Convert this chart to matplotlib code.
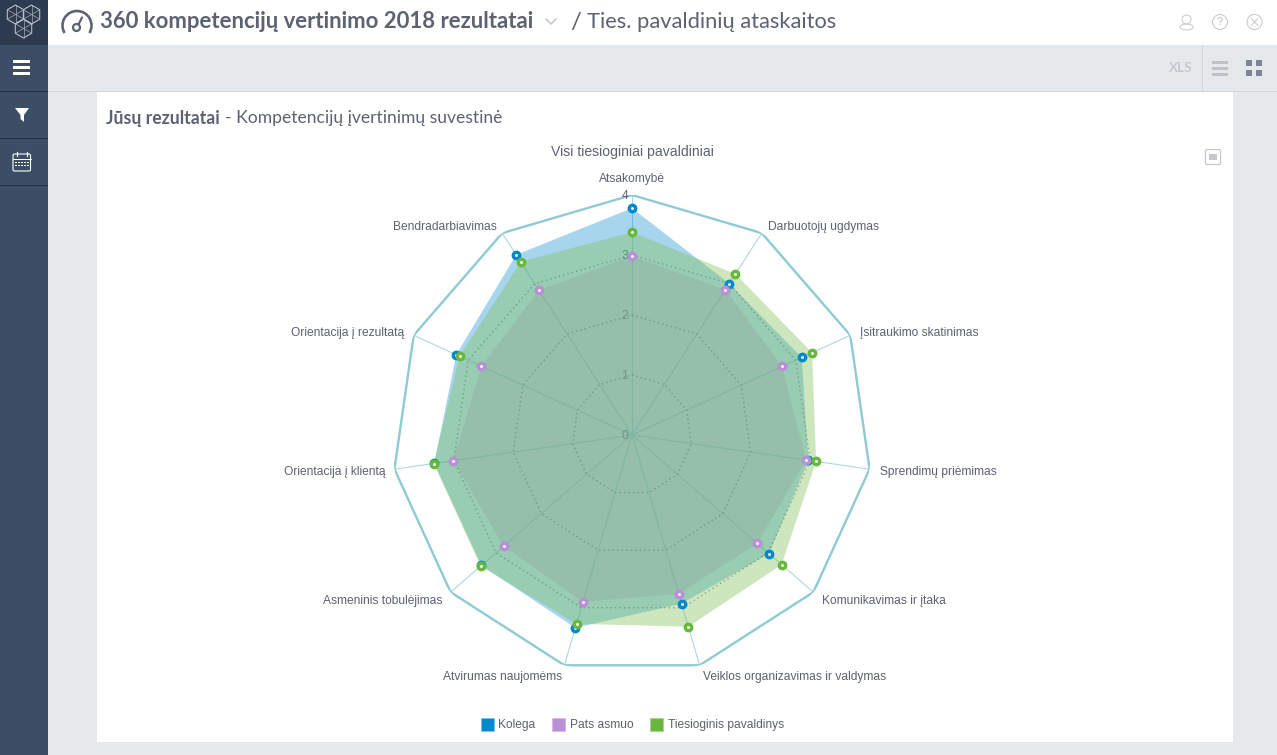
import numpy as np
import matplotlib
matplotlib.use("Agg")
import matplotlib.pyplot as plt
from matplotlib.patches import Rectangle, Circle, Arc, Polygon, FancyBboxPatch

categories = ["Atsakomybė", "Darbuotojų ugdymas", "Įsitraukimo skatinimas", "Sprendimų priėmimas",
              "Komunikavimas ir įtaka", "Veiklos organizavimas ir valdymas", "Atvirumas naujomėms",
              "Asmeninis tobulėjimas", "Orientacija į klientą", "Orientacija į rezultatą", "Bendradarbiavimas"]
kolega = [3.78, 3.00, 3.11, 2.97, 3.02, 2.93, 3.35, 3.32, 3.33, 3.22, 3.57]
pats = [2.98, 2.88, 2.75, 2.93, 2.76, 2.76, 2.90, 2.83, 3.01, 2.76, 2.87]
pavaldinys = [3.38, 3.19, 3.30, 3.10, 3.30, 3.33, 3.28, 3.34, 3.34, 3.16, 3.43]
series_names = ["Kolega", "Pats asmuo", "Tiesioginis pavaldinys"]
r_ticks = [0, 1, 2, 3, 4]

W, H = 1277, 755
C_BLUE = "#0088cc"
C_PURPLE = "#b98fd6"
C_GREEN = "#66b93c"
C_TEXT = "#5d6272"
C_BG = "#e6e9ec"
C_SIDE = "#3c4e66"
LABEL_FONT = ["Liberation Sans", "DejaVu Sans"]
HEAD_FONT = ["Lato", "DejaVu Sans"]

def px(v):
    return v * 0.72

fig = plt.figure(figsize=(W / 100, H / 100), dpi=100, facecolor=C_BG)

# page chrome, in pixel coordinates
bg = fig.add_axes([0, 0, 1, 1])
bg.set_xlim(0, W)
bg.set_ylim(H, 0)
bg.axis("off")

def box(x, y, w, h, color, **kw):
    bg.add_patch(Rectangle((x, y), w, h, fc=color, ec="none", **kw))

def seg(xs, ys, color, lw=1.0):
    bg.plot(xs, ys, color=color, lw=px(lw), solid_capstyle="round")

box(48, 0, W - 48, 45, "white")
box(48, 91, W - 48, 1, "#d3d7da")
box(1202, 45, 1, 46, "#d3d7da")
box(97, 92, 1136, 650, "white")
box(0, 0, 48, H, C_SIDE)
box(0, 0, 48, 45, "#2c3b50")
for y in [91, 138, 185]:
    box(0, y, 48, 1, "#222f40")

# logo
for cx, cy in [(15.5, 14.5), (31.5, 14.5), (23.5, 28.5)]:
    hex_pts = [(cx + 9.5 * np.sin(a), cy - 9.5 * np.cos(a)) for a in np.radians(range(0, 360, 60))]
    bg.add_patch(Polygon(hex_pts, closed=True, fc="none", ec="#c5cad1", lw=px(1)))
    for a, b in [(0, 3), (1, 4), (2, 5)]:
        seg([hex_pts[a][0], hex_pts[b][0]], [hex_pts[a][1], hex_pts[b][1]], "#a4abb5", 0.7)

# sidebar icons
for y in [60, 66, 72]:
    box(13, y, 17, 3, "white")
bg.add_patch(Polygon([(15, 108), (29, 108), (24, 115), (24, 122), (20.5, 119), (20.5, 115)], fc="white", ec="none"))
bg.add_patch(FancyBboxPatch((13, 154), 17.5, 17, boxstyle="round,pad=0,rounding_size=1.5", fc="none", ec="white", lw=px(1.1)))
seg([13, 30.5], [158.5, 158.5], "white", 1)
seg([17, 17], [152, 156], "white", 1.2)
seg([26.5, 26.5], [152, 156], "white", 1.2)
for yy in [161.5, 164.5]:
    for xx in [15.5, 18.5, 21.5, 24.5, 27.5]:
        box(xx - 0.8, yy, 1.8, 1.8, "white")

# gauge icon
bg.add_patch(Arc((77, 25.5), 29, 29, theta1=149, theta2=391, ec=C_TEXT, lw=px(2.6)))
bg.add_patch(Circle((76.5, 27.5), 3.5, fc="none", ec=C_TEXT, lw=px(2.2)))
seg([78.5, 82], [24.5, 17.5], C_TEXT, 2.2)

# header text
bg.text(100, 22, "360 kompetencijų vertinimo 2018 rezultatai", family=HEAD_FONT, weight="bold",
        fontsize=px(22.2), color=C_TEXT, va="center", ha="left")
seg([546, 551, 556], [19, 24, 19], "#c3c7cc", 1.6)
bg.text(570, 22, "/", family=HEAD_FONT, fontsize=px(24), color=C_TEXT, va="center", ha="left")
bg.text(587, 22, "Ties. pavaldinių ataskaitos", family=HEAD_FONT, fontsize=px(21.9), color=C_TEXT,
        va="center", ha="left")

# header right icons
bg.add_patch(Circle((1186.5, 19.5), 4.5, fc="none", ec="#c4c7cc", lw=px(1)))
bg.add_patch(Arc((1186.5, 27), 13, 6, ec="#c4c7cc", lw=px(1)))
bg.add_patch(Circle((1220, 22), 7.5, fc="none", ec="#c4c7cc", lw=px(1)))
bg.text(1220, 22, "?", family=LABEL_FONT, fontsize=px(11), color="#b9bcc2", ha="center", va="center")
bg.add_patch(Circle((1254.5, 22), 7.5, fc="none", ec="#c4c7cc", lw=px(1)))
seg([1251, 1258], [18.5, 25.5], "#c4c7cc", 1)
seg([1251, 1258], [25.5, 18.5], "#c4c7cc", 1)

# toolbar icons
bg.text(1181, 68, "XLS", family=HEAD_FONT, weight="bold", fontsize=px(13.5), color="#c6cacf", ha="center", va="center")
for y in [61, 67, 73]:
    box(1212, y, 16, 3, "#bfc3c7")
for x in [1246, 1256]:
    for y in [60, 70]:
        box(x, y, 6, 6, "#7d8490")

# panel heading
bg.text(106, 118.5, "Jūsų rezultatai", family=HEAD_FONT, weight="bold", fontsize=px(17.6), color=C_TEXT,
        va="center", ha="left")
bg.text(225, 118.5, "- Kompetencijų įvertinimų suvestinė", family=HEAD_FONT, fontsize=px(17.5), color=C_TEXT,
        va="center", ha="left")
bg.text(632, 152, "Visi tiesioginiai pavaldiniai", family=LABEL_FONT, fontsize=px(14), color=C_TEXT,
        ha="center", va="center")

# export button
bg.add_patch(FancyBboxPatch((1205.5, 149.5), 15, 15, boxstyle="round,pad=0,rounding_size=1.5", fc="white", ec="#c4c7cc", lw=px(1.2)))
box(1209, 154, 8, 6, "#c4c7cc")

# radar
cx, cy, R = 632, 435, 240
ax = fig.add_axes([(cx - R) / W, 1 - (cy + R) / H, 2 * R / W, 2 * R / H], projection="polar")
ax.set_theta_zero_location("N")
ax.set_theta_direction(-1)
ax.set_ylim(0, r_ticks[-1])
ax.patch.set_alpha(0)
ax.grid(False)
ax.set_xticks([])
ax.set_yticks([])
ax.spines["polar"].set_visible(False)

n = len(categories)
theta = np.arange(n) * 2 * np.pi / n
theta_c = np.append(theta, theta[0])

def closed(v):
    return np.append(v, v[0])

# spokes and rings
for th in theta:
    ax.plot([th, th], [0, r_ticks[-1]], color="#aad8df", lw=px(1.1), zorder=1)
for r in r_ticks[1:-1]:
    ax.plot(theta_c, np.full(n + 1, r), color="#5f7d72", alpha=0.6, lw=px(1.4), ls=(0, (1, 2.2)), zorder=4)
ax.plot(theta_c, np.full(n + 1, r_ticks[-1]), color="#8fcbd4", lw=px(2.4), zorder=1)

for r in r_ticks:
    ax.annotate(str(r), (0, r), xytext=(-4, -1), textcoords="offset pixels", ha="right", va="center",
                family=LABEL_FONT, fontsize=px(12), color="#5d6272", zorder=1.5)

# filled series
fills = [(kolega, C_BLUE, 0.35), (pavaldinys, "#83c25c", 0.40), (pats, "#92a59d", 0.35)]
for vals, col, alpha in fills:
    ax.fill(theta_c, closed(vals), color=col, alpha=alpha, lw=0, zorder=2)

for vals, col in [(kolega, C_BLUE), (pats, C_PURPLE), (pavaldinys, C_GREEN)]:
    ax.plot(theta, vals, ls="none", marker="o", ms=px(6.4), mew=px(3.4), mec=col, mfc="white", zorder=5,
            clip_on=False)

# category labels
label_off = [(0, 16), (6, 6), (10, 2), (10, -3), (9, -9), (3, -12), (-2, -12), (-8, -9), (-9, -3), (-9, 2), (-5, 6)]
for i, name in enumerate(categories):
    dx, dy = label_off[i]
    ha = "center" if dx == 0 else ("left" if dx > 0 else "right")
    ax.annotate(name, (theta[i], r_ticks[-1]), xytext=(dx, dy), textcoords="offset pixels", ha=ha, va="center",
                family=LABEL_FONT, fontsize=px(12), color=C_TEXT, annotation_clip=False)

# legend
for x, col, edge, name, tx in [(480, C_BLUE, "#7fc3e5", series_names[0], 498),
                               (551, C_PURPLE, "#d5bde8", series_names[1], 570),
                               (649, C_GREEN, "#a9d68f", series_names[2], 668)]:
    bg.add_patch(Rectangle((x + 0.5, 717.5), 13.5, 13.5, fc=col, ec=edge, lw=px(1)))
    bg.text(tx, 725, name, family=LABEL_FONT, fontsize=px(12), color=C_TEXT, ha="left", va="center")

fig.savefig("out.png", dpi=100, facecolor=fig.get_facecolor())
plt.close(fig)
